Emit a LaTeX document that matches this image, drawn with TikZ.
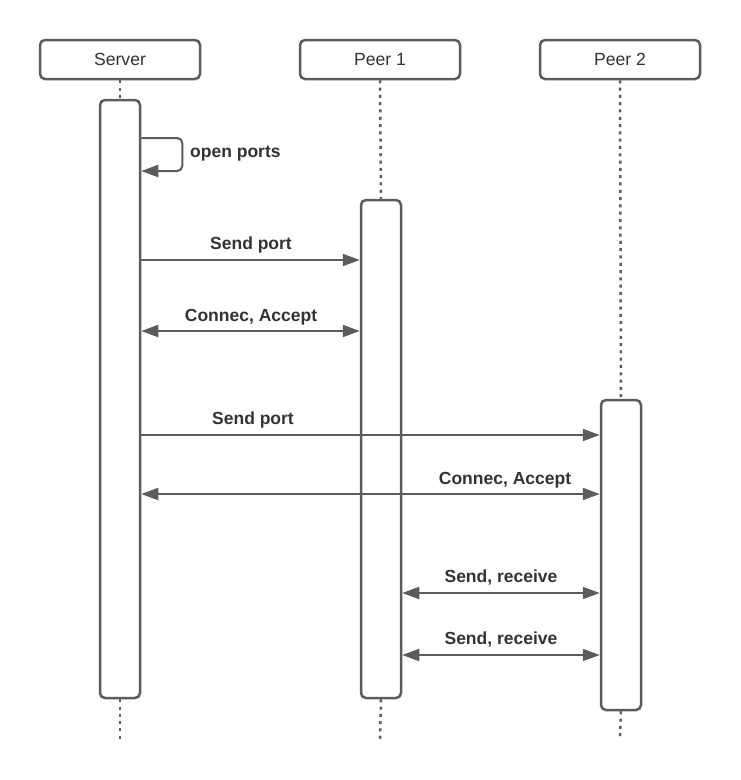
\documentclass[tikz,border=0pt]{standalone}
\usepackage{fontspec}
\setmainfont{Liberation Sans}
\usetikzlibrary{arrows.meta}
\definecolor{ln}{RGB}{92,92,92}
\definecolor{tx}{RGB}{51,51,51}
\tikzset{
  head/.style={draw=ln, line width=2.5pt, rounded corners=5pt, fill=white,
    minimum width=160pt, minimum height=39pt, inner sep=0pt, text=tx,
    font=\fontsize{17.6}{20}\selectfont},
  bar/.style={draw=ln, line width=2.5pt, rounded corners=5pt, fill=white,
    minimum width=40pt, inner sep=0pt},
  life/.style={draw=ln, line width=2.5pt, dash pattern=on 3pt off 4.3pt},
  tipx/.tip={Triangle[length=17pt,width=12pt]},
  msg/.style={draw=ln, line width=2pt, -tipx},
  bmsg/.style={draw=ln, line width=2pt, tipx-tipx},
  lab/.style={text=tx, font=\bfseries\fontsize{17.5}{20}\selectfont, inner sep=0pt, anchor=base}
}
\begin{document}
\begin{tikzpicture}[x=1pt,y=-1pt]
\useasboundingbox (0,0) rectangle (740,780);
\fill[white] (0,0) rectangle (740,780);
% lifelines ends
\coordinate (se) at (120,740);
\coordinate (p1e) at (380,740);
\coordinate (p2e) at (620,740);
% headers
\node[head] (sh) at (120,59.5) {Server};
\node[head] (p1h) at (380,59.5) {Peer 1};
\node[head] (p2h) at (620,59.5) {Peer 2};
% activation bars
\node[bar, minimum height=598pt] (sb) at (120,399) {};
\node[bar, minimum height=498pt] (p1b) at (381,449) {};
\node[bar, minimum height=310pt] (p2b) at (621,555) {};
% lifelines
\draw[life] (sh.south) -- (sb.north);
\draw[life] (sb.south) -- (se);
\draw[life] (p1h.south) -- (p1b.north);
\draw[life] (p1b.south) -- (p1e);
\draw[life] (p2h.south) -- (p2b.north);
\draw[life] (p2b.south) -- (p2e);
% message levels
\coordinate (s1) at (0,138);
\coordinate (s2) at (0,171);
\coordinate (m1) at (0,260);
\coordinate (m2) at (0,331);
\coordinate (m3) at (0,435);
\coordinate (m4) at (0,494);
\coordinate (m5) at (0,593);
\coordinate (m6) at (0,655);
% self message
\draw[msg, rounded corners=5pt] (sb.east |- s1) -- ++(41,0) -- ++(0,33) -- (sb.east |- s2);
\node[lab, anchor=base west] (l0) at (190,157) {open ports};
% messages
\draw[msg] (sb.east |- m1) -- (p1b.west |- m1);
\node[lab] (l1) at (251,249) {Send port};
\draw[bmsg] (sb.east |- m2) -- (p1b.west |- m2);
\node[lab] (l2) at (251,321) {Connec, Accept};
\draw[msg] (sb.east |- m3) -- (p2b.west |- m3);
\node[lab] (l3) at (253,424.5) {Send port};
\draw[bmsg] (sb.east |- m4) -- (p2b.west |- m4);
\node[lab] (l4) at (505,484.5) {Connec, Accept};
\draw[bmsg] (p1b.east |- m5) -- (p2b.west |- m5);
\node[lab] (l5) at (501,582) {Send, receive};
\draw[bmsg] (p1b.east |- m6) -- (p2b.west |- m6);
\node[lab] (l6) at (501,644) {Send, receive};
\end{tikzpicture}
\end{document}
